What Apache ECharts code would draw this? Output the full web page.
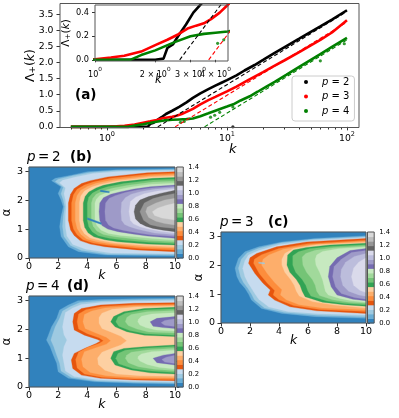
<!DOCTYPE html>
<html>
<head>
<meta charset="utf-8">
<script src="https://cdn.jsdelivr.net/npm/echarts@6/dist/echarts.min.js"></script>
<style>
  html, body { margin: 0; padding: 0; background: #fff; }
  #chart { width: 399px; height: 418px; }
</style>
</head>
<body>
<div id="chart"></div>
<script>
const FONT = 'DejaVu Sans'
const PI = Math.PI

// matplotlib tab20c, one colour per contour band (0 .. 1.4 in steps of 0.07)
const tab20c = ['#3182bd', '#6baed6', '#9ecae1', '#c6dbef', '#e6550d', '#fd8d3c', '#fdae6b', '#fdd0a2',
  '#31a354', '#74c476', '#a1d99b', '#c7e9c0', '#756bb1', '#9e9ac8', '#bcbddc', '#dadaeb',
  '#636363', '#969696', '#bdbdbd', '#d9d9d9']
const cbLevels = [0, 0.07, 0.14, 0.21, 0.28, 0.35, 0.42, 0.49, 0.56, 0.63, 0.7, 0.77, 0.84, 0.91, 0.98,
  1.05, 1.12, 1.19, 1.26, 1.33, 1.4]
const cbTicks = [0, 0.2, 0.4, 0.6, 0.8, 1.0, 1.2, 1.4]

// panel (a): Lambda_+(k)
const kP2 = [0.5, 1.0, 1.5, 2.0, 2.2, 2.3, 2.45, 2.6, 2.85, 3.1, 3.5, 4.0, 4.6, 5.2, 6.0, 7.0, 8.0, 9.0, 10, 12, 14, 17, 20, 25, 30, 40, 50, 60, 75, 100]
const lamP2 = [0, 0, 0, 0, 0.01, 0.1, 0.13, 0.2, 0.3, 0.4, 0.5, 0.62, 0.76, 0.9, 1.04, 1.17, 1.28, 1.37, 1.45, 1.6, 1.75, 1.92, 2.08, 2.3, 2.47, 2.74, 2.95, 3.12, 3.33, 3.62]
const kP3 = [0.5, 0.9, 1.0, 1.2, 1.4, 1.7, 2.0, 2.3, 2.6, 2.9, 3.2, 3.5, 3.8, 4.2, 4.6, 5.2, 6.0, 7.0, 8.0, 10, 12, 15, 20, 25, 30, 40, 50, 60, 75, 100]
const lamP3 = [0, 0, 0.005, 0.02, 0.035, 0.07, 0.125, 0.17, 0.215, 0.265, 0.29, 0.31, 0.345, 0.4, 0.465, 0.56, 0.7, 0.83, 0.93, 1.1, 1.25, 1.45, 1.7, 1.9, 2.06, 2.32, 2.53, 2.7, 2.93, 3.31]
const kP4 = [0.5, 1.0, 1.5, 1.7, 2.0, 2.5, 3.0, 3.5, 4.0, 4.6, 5.2, 6.0, 7.0, 8.0, 9.0, 10, 11.3, 13, 15.5, 18, 21.5, 25, 31.4, 40, 50, 60, 75, 100]
const lamP4 = [0, 0, 0, 0.04, 0.08, 0.15, 0.2, 0.22, 0.23, 0.24, 0.26, 0.33, 0.42, 0.5, 0.57, 0.63, 0.7, 0.82, 0.95, 1.09, 1.26, 1.4, 1.62, 1.86, 2.08, 2.26, 2.48, 2.76]
const strayP2 = [[11.2, 0.0]]
const strayP4 = [[4.1, 0.14], [4.4, 0.17], [7.3, 0.3], [7.9, 0.36], [8.7, 0.45], [11.2, 0.62], [60, 2.05], [95, 2.58]]
// asymptotic fits (dashed)
const fitP2 = [[2.65, 0], [100, 3.58]]
const fitP3 = [[3.7, 0], [100, 3.25]]
const fitP4 = [[6.5, 0], [100, 2.7]]

const mainXTicks = [1, 10, 100]
const mainXMinor = [0.5, 0.6, 0.7, 0.8, 0.9, 2, 3, 4, 5, 6, 7, 8, 9, 20, 30, 40, 50, 60, 70, 80, 90]
const mainYTicks = [0, 0.5, 1.0, 1.5, 2.0, 2.5, 3.0, 3.5]
const insetXTicks = [1, 2, 3, 4]
const insetXLabelsA = [1, 2, 4]
const insetXLabelsB = [3]
const insetYTicks = [0, 0.2, 0.4]
const heatYTicks = [0, 1, 2, 3]

// contour bands: [band, boundary k,alpha pairs], each region closes along k = 10
const levelsP2 = [
  [1, [10, 3.08, 6, 3.05, 4.0, 2.98, 2.9, 2.86, 1.8, 2.75, 1.55, 2.67, 2.2, 2.46, 2.0, 2.23, 2.2, 2.0, 2.35, 1.77, 2.2, 1.43, 2.1, 1.08, 2.2, 0.74, 2.7, 0.39, 3.4, 0.22, 5.2, 0.1, 10, 0.07]],
  [2, [10, 3.05, 6, 3.02, 4.2, 2.95, 3.0, 2.84, 2.0, 2.72, 1.8, 2.64, 2.35, 2.44, 2.2, 2.22, 2.35, 2.0, 2.45, 1.77, 2.35, 1.43, 2.3, 1.08, 2.4, 0.74, 2.85, 0.43, 3.6, 0.26, 5.4, 0.13, 10, 0.11]],
  [3, [10, 3.02, 6.2, 2.99, 4.4, 2.92, 3.2, 2.8, 2.3, 2.68, 2.1, 2.6, 2.5, 2.42, 2.4, 2.22, 2.5, 2.0, 2.55, 1.77, 2.5, 1.43, 2.5, 1.08, 2.6, 0.76, 3.0, 0.47, 3.9, 0.3, 5.6, 0.17, 10, 0.15]],
  [4, [10, 2.98, 8.1, 2.94, 5.4, 2.8, 4.2, 2.67, 3.6, 2.57, 3.1, 2.4, 2.85, 2.2, 2.7, 1.9, 2.7, 1.3, 2.85, 0.97, 3.1, 0.78, 3.5, 0.6, 4.2, 0.48, 5.2, 0.39, 7.4, 0.28, 10, 0.22]],
  [5, [10, 2.93, 8.2, 2.89, 5.6, 2.75, 4.4, 2.62, 3.8, 2.52, 3.3, 2.37, 3.05, 2.18, 2.92, 1.9, 2.92, 1.3, 3.05, 1.0, 3.3, 0.8, 3.7, 0.63, 4.4, 0.52, 5.4, 0.44, 7.6, 0.33, 10, 0.28]],
  [6, [10, 2.88, 8.3, 2.84, 5.8, 2.7, 4.6, 2.58, 4.05, 2.48, 3.55, 2.34, 3.3, 2.16, 3.17, 1.9, 3.17, 1.3, 3.3, 1.02, 3.55, 0.82, 3.95, 0.66, 4.65, 0.56, 5.6, 0.48, 7.8, 0.38, 10, 0.34]],
  [7, [10, 2.83, 8.4, 2.8, 6.0, 2.66, 4.85, 2.54, 4.3, 2.45, 3.8, 2.31, 3.55, 2.14, 3.45, 1.9, 3.45, 1.3, 3.55, 1.04, 3.8, 0.84, 4.2, 0.69, 4.9, 0.6, 5.85, 0.52, 8.0, 0.43, 10, 0.39]],
  [8, [10, 2.78, 8.5, 2.75, 6.3, 2.63, 5.1, 2.51, 4.6, 2.42, 4.1, 2.28, 3.85, 2.12, 3.72, 1.9, 3.72, 1.3, 3.82, 1.06, 4.05, 0.87, 4.45, 0.73, 5.2, 0.63, 6.1, 0.56, 8.1, 0.48, 10, 0.45]],
  [9, [10, 2.72, 8.5, 2.69, 6.5, 2.57, 5.4, 2.46, 4.85, 2.37, 4.35, 2.24, 4.1, 2.1, 4.0, 1.9, 4.0, 1.3, 4.1, 1.08, 4.35, 0.9, 4.75, 0.77, 5.5, 0.68, 6.4, 0.62, 8.2, 0.54, 10, 0.5]],
  [10, [10, 2.65, 8.5, 2.62, 6.8, 2.51, 5.7, 2.41, 5.1, 2.32, 4.6, 2.2, 4.38, 2.06, 4.28, 1.9, 4.28, 1.3, 4.4, 1.1, 4.65, 0.93, 5.1, 0.81, 5.9, 0.73, 6.8, 0.68, 8.3, 0.6, 10, 0.56]],
  [11, [10, 2.58, 8.4, 2.55, 7.0, 2.45, 6.0, 2.35, 5.35, 2.26, 4.85, 2.16, 4.62, 2.03, 4.52, 1.9, 4.52, 1.3, 4.65, 1.12, 4.95, 0.96, 5.45, 0.85, 6.3, 0.78, 7.3, 0.73, 8.5, 0.67, 10, 0.62]],
  [12, [10, 2.52, 8.3, 2.46, 7.2, 2.38, 6.3, 2.29, 5.6, 2.2, 5.1, 2.08, 4.85, 1.9, 4.8, 1.6, 4.85, 1.3, 5.0, 1.12, 5.4, 1.0, 6.1, 0.91, 7.1, 0.83, 8.1, 0.76, 10, 0.68]],
  [13, [10, 2.48, 8.4, 2.42, 7.4, 2.35, 6.6, 2.26, 6.0, 2.17, 5.5, 2.06, 5.25, 1.9, 5.2, 1.6, 5.25, 1.3, 5.45, 1.14, 5.8, 1.04, 6.5, 0.95, 7.4, 0.87, 8.3, 0.8, 10, 0.74]],
  [14, [10, 2.43, 8.6, 2.37, 7.7, 2.3, 7.0, 2.2, 6.6, 2.08, 6.35, 1.92, 6.3, 1.6, 6.35, 1.3, 6.55, 1.16, 6.9, 1.08, 7.4, 1.0, 8.0, 0.93, 8.6, 0.86, 10, 0.8]],
  [15, [10, 2.38, 8.8, 2.31, 7.9, 2.22, 7.3, 2.1, 6.95, 1.95, 6.85, 1.6, 6.95, 1.3, 7.15, 1.18, 7.6, 1.08, 8.2, 1.0, 9.0, 0.92, 10, 0.86]],
  [16, [10, 2.34, 9.0, 2.23, 8.2, 2.12, 7.6, 2.0, 7.3, 1.82, 7.2, 1.6, 7.3, 1.35, 7.6, 1.2, 8.0, 1.1, 8.5, 1.02, 9.2, 0.96, 10, 0.91]],
  [17, [10, 2.23, 9.2, 2.15, 8.5, 2.05, 7.9, 1.9, 7.6, 1.6, 7.85, 1.3, 8.3, 1.15, 9.0, 1.07, 10, 1.02]],
  [18, [10, 2.06, 9.3, 2.0, 8.7, 1.9, 8.1, 1.75, 8.0, 1.6, 8.2, 1.4, 8.7, 1.27, 9.3, 1.19, 10, 1.14]],
  [19, [10, 1.89, 9.4, 1.82, 8.8, 1.72, 8.45, 1.6, 8.6, 1.47, 9.1, 1.38, 10, 1.31]],
  [0, [4.0, 1.39, 4.95, 1.22, 4.95, 1.16, 4.0, 1.33]],
  [0, [4.9, 2.35, 5.5, 2.3, 5.5, 2.25, 4.9, 2.29]],
]

const levelsP3 = [
  [1, [10, 3.01, 6.5, 2.92, 4.2, 2.8, 2.6, 2.63, 1.65, 2.46, 1.2, 2.23, 0.97, 1.89, 1.1, 1.6, 1.3, 1.4, 1.65, 1.2, 1.9, 1.0, 2.1, 0.79, 2.8, 0.5, 4.2, 0.33, 6.5, 0.22, 10, 0.16]],
  [2, [10, 2.98, 6.4, 2.89, 4.1, 2.76, 2.6, 2.58, 1.8, 2.42, 1.4, 2.2, 1.2, 1.89, 1.35, 1.6, 1.55, 1.4, 1.85, 1.2, 2.1, 1.0, 2.3, 0.8, 3.0, 0.52, 4.4, 0.36, 6.6, 0.27, 10, 0.22]],
  [3, [10, 2.95, 6.2, 2.85, 4.0, 2.7, 2.6, 2.5, 1.9, 2.35, 1.65, 2.15, 1.5, 1.89, 1.65, 1.6, 1.85, 1.4, 2.1, 1.2, 2.35, 1.0, 2.6, 0.82, 3.3, 0.55, 4.6, 0.4, 6.7, 0.32, 10, 0.28]],
  [4, [10, 2.92, 5.9, 2.8, 3.84, 2.63, 2.46, 2.4, 2.0, 2.25, 1.9, 2.06, 2.34, 1.71, 2.9, 1.37, 3.4, 1.14, 3.26, 0.97, 3.7, 0.79, 4.76, 0.56, 6.6, 0.42, 10, 0.33]],
  [5, [10, 2.86, 6.0, 2.74, 4.0, 2.57, 2.8, 2.36, 2.3, 2.2, 2.25, 2.06, 2.65, 1.7, 3.2, 1.37, 3.7, 1.12, 3.6, 0.97, 4.0, 0.8, 5.0, 0.6, 6.8, 0.47, 10, 0.4]],
  [6, [10, 2.82, 6.2, 2.7, 4.3, 2.55, 3.3, 2.35, 2.9, 2.2, 2.8, 2.0, 3.2, 1.7, 3.7, 1.4, 4.2, 1.15, 4.1, 0.97, 4.5, 0.8, 5.4, 0.63, 7.0, 0.52, 10, 0.46]],
  [7, [10, 2.78, 6.6, 2.7, 5.0, 2.57, 4.4, 2.4, 4.2, 2.2, 4.2, 2.0, 4.4, 1.75, 4.8, 1.5, 5.05, 1.3, 5.2, 1.1, 5.4, 0.93, 6.3, 0.74, 7.8, 0.62, 10, 0.52]],
  [8, [10, 2.75, 7.5, 2.69, 5.9, 2.61, 5.0, 2.52, 4.6, 2.35, 4.55, 2.0, 4.75, 1.75, 5.2, 1.5, 5.45, 1.3, 5.6, 1.1, 5.8, 0.91, 7.0, 0.72, 8.5, 0.63, 10, 0.58]],
  [9, [10, 2.7, 7.6, 2.64, 6.1, 2.56, 5.35, 2.46, 4.95, 2.32, 4.95, 2.0, 5.15, 1.75, 5.6, 1.5, 5.85, 1.3, 6.0, 1.1, 6.2, 0.93, 7.3, 0.76, 8.6, 0.67, 10, 0.63]],
  [10, [10, 2.66, 7.8, 2.6, 6.5, 2.51, 5.85, 2.4, 5.6, 2.28, 5.65, 2.0, 5.9, 1.75, 6.3, 1.5, 6.5, 1.3, 6.6, 1.1, 6.8, 0.95, 7.7, 0.8, 8.8, 0.72, 10, 0.68]],
  [11, [10, 2.62, 8.1, 2.56, 7.0, 2.47, 6.6, 2.35, 6.5, 2.2, 6.55, 2.0, 6.8, 1.75, 7.0, 1.5, 7.1, 1.3, 7.2, 1.1, 7.4, 0.97, 8.2, 0.85, 9.0, 0.77, 10, 0.72]],
  [12, [10, 2.57, 8.9, 2.5, 8.0, 2.25, 7.5, 1.95, 7.4, 1.6, 7.6, 1.25, 8.0, 0.97, 9.1, 0.82, 10, 0.77]],
  [13, [10, 2.5, 9.0, 2.43, 8.3, 2.2, 7.8, 1.95, 7.7, 1.6, 7.9, 1.25, 8.3, 1.02, 9.2, 0.88, 10, 0.82]],
  [14, [10, 2.4, 9.2, 2.3, 8.6, 2.1, 8.3, 1.85, 8.25, 1.6, 8.4, 1.3, 8.8, 1.1, 9.5, 0.97, 10, 0.92]],
  [15, [10, 2.25, 9.5, 2.1, 9.15, 1.9, 9.0, 1.6, 9.15, 1.3, 9.6, 1.12, 10, 1.05]],
  [2, [2.6, 2.1, 3.0, 2.08, 3.0, 2.04, 2.6, 2.06]],
]

const levelsP4 = [
  [1, [10, 3.06, 7.2, 3.05, 4.9, 3.02, 3.36, 2.98, 2.7, 2.83, 2.1, 2.66, 1.9, 2.37, 1.55, 2.08, 1.33, 1.79, 1.2, 1.62, 1.45, 1.39, 1.67, 1.1, 1.9, 0.82, 2.0, 0.53, 2.7, 0.3, 4.5, 0.18, 7.2, 0.13, 10, 0.1]],
  [2, [10, 3.03, 7.2, 3.0, 4.9, 2.97, 3.5, 2.92, 2.85, 2.78, 2.3, 2.62, 2.1, 2.37, 1.8, 2.08, 1.6, 1.79, 1.5, 1.62, 1.7, 1.39, 1.9, 1.1, 2.1, 0.82, 2.2, 0.55, 2.9, 0.33, 4.6, 0.21, 7.2, 0.16, 10, 0.14]],
  [3, [10, 2.99, 7.2, 2.96, 4.9, 2.92, 3.6, 2.85, 3.0, 2.73, 2.5, 2.57, 2.4, 2.35, 2.3, 2.08, 2.4, 1.8, 2.6, 1.62, 2.4, 1.39, 2.3, 1.1, 2.4, 0.82, 2.5, 0.55, 3.1, 0.36, 4.7, 0.25, 7.2, 0.2, 10, 0.18]],
  [4, [10, 2.91, 7.2, 2.89, 4.9, 2.83, 3.6, 2.71, 3.1, 2.54, 3.0, 2.25, 3.1, 1.97, 3.8, 1.79, 4.7, 1.64, 4.9, 1.59, 4.6, 1.5, 3.8, 1.33, 3.1, 1.16, 2.9, 0.93, 3.0, 0.64, 3.6, 0.41, 4.9, 0.3, 7.2, 0.24, 10, 0.22]],
  [5, [10, 2.86, 7.2, 2.84, 5.0, 2.78, 3.9, 2.67, 3.4, 2.52, 3.3, 2.25, 3.4, 2.0, 4.0, 1.84, 4.8, 1.7, 5.1, 1.6, 4.8, 1.5, 4.0, 1.36, 3.4, 1.2, 3.2, 0.95, 3.3, 0.66, 3.8, 0.45, 5.0, 0.34, 7.2, 0.28, 10, 0.26]],
  [6, [10, 2.82, 7.2, 2.8, 5.2, 2.73, 4.3, 2.62, 3.8, 2.5, 3.7, 2.25, 3.85, 2.02, 4.5, 1.88, 5.3, 1.72, 5.6, 1.6, 5.3, 1.48, 4.5, 1.34, 3.8, 1.22, 3.6, 0.96, 3.7, 0.7, 4.2, 0.5, 5.3, 0.39, 7.3, 0.33, 10, 0.31]],
  [7, [10, 2.79, 7.4, 2.76, 5.7, 2.68, 5.0, 2.55, 4.8, 2.4, 4.8, 2.2, 5.0, 2.02, 5.6, 1.9, 6.3, 1.75, 6.7, 1.6, 6.3, 1.45, 5.6, 1.32, 5.0, 1.2, 4.7, 1.0, 4.75, 0.78, 5.2, 0.58, 6.0, 0.45, 7.6, 0.39, 10, 0.37]],
  [8, [10, 2.75, 7.9, 2.71, 6.5, 2.6, 5.8, 2.43, 5.6, 2.25, 5.9, 2.08, 6.7, 1.91, 7.9, 1.79, 10, 1.74]],
  [8, [10, 1.45, 7.9, 1.39, 6.5, 1.33, 5.8, 1.22, 5.6, 0.99, 5.9, 0.76, 7.0, 0.59, 8.3, 0.49, 10, 0.45]],
  [9, [10, 2.7, 7.9, 2.66, 6.6, 2.55, 6.1, 2.42, 5.95, 2.25, 6.15, 2.1, 6.9, 1.95, 8.0, 1.84, 10, 1.79]],
  [9, [10, 1.4, 7.9, 1.34, 6.6, 1.27, 6.1, 1.16, 5.95, 0.99, 6.15, 0.8, 7.1, 0.64, 8.4, 0.55, 10, 0.5]],
  [10, [10, 2.64, 8.1, 2.6, 7.0, 2.5, 6.7, 2.4, 6.6, 2.25, 6.8, 2.12, 7.4, 2.0, 8.2, 1.9, 10, 1.86]],
  [10, [10, 1.34, 8.1, 1.28, 7.0, 1.2, 6.7, 1.1, 6.6, 0.99, 6.8, 0.84, 7.5, 0.7, 8.6, 0.61, 10, 0.56]],
  [11, [10, 2.56, 8.4, 2.52, 7.7, 2.44, 7.5, 2.34, 7.45, 2.25, 7.6, 2.14, 8.0, 2.05, 8.7, 1.97, 10, 1.93]],
  [11, [10, 1.27, 8.4, 1.22, 7.7, 1.14, 7.5, 1.06, 7.45, 0.99, 7.6, 0.9, 8.1, 0.78, 8.9, 0.68, 10, 0.62]],
  [12, [10, 2.43, 8.76, 2.37, 8.3, 2.25, 8.5, 2.1, 9.2, 2.05, 10, 2.02]],
  [12, [10, 1.16, 9.2, 1.1, 8.5, 0.99, 8.76, 0.84, 10, 0.76]],
  [13, [10, 2.36, 9.3, 2.3, 9.05, 2.22, 9.3, 2.13, 10, 2.09]],
  [13, [10, 1.1, 9.4, 1.03, 9.1, 0.95, 9.3, 0.86, 10, 0.81]],
]

const zip = (xs, ys) => xs.map((x, i) => [x, ys[i]])
const pairs = (flat) => {
  const out = []
  for (let i = 0; i < flat.length; i += 2) out.push([flat[i], flat[i + 1]])
  return out
}

const txt = { fontFamily: FONT, color: '#000', fontWeight: 'normal' }
const supRich = {
  b: { ...txt, fontSize: 9.3, lineHeight: 13, verticalAlign: 'bottom' },
  s: { ...txt, fontSize: 6.5, lineHeight: 7, verticalAlign: 'top' },
  b8: { ...txt, fontSize: 8, lineHeight: 12, verticalAlign: 'bottom' },
  s8: { ...txt, fontSize: 5.8, lineHeight: 6, verticalAlign: 'top' },
}
const lamRich = (fs) => ({
  a: { ...txt, fontSize: fs },
  i: { ...txt, fontSize: fs, fontStyle: 'italic' },
  b: { ...txt, fontSize: fs * 0.7, verticalAlign: 'bottom', lineHeight: fs * 0.6 },
})

const grids = [
  { left: 60, top: 3.5, width: 299, height: 124 },      // (a)
  { left: 95, top: 5, width: 133, height: 56 },         // inset
  { left: 27, top: 167, width: 148, height: 91 },       // (b)
  { left: 176.7, top: 167, width: 6.6, height: 91 },    // (b) colorbar
  { left: 221, top: 232, width: 145, height: 91 },      // (c)
  { left: 367.5, top: 232, width: 6.7, height: 91 },    // (c) colorbar
  { left: 27, top: 296, width: 148, height: 91 },       // (d)
  { left: 176.7, top: 296, width: 6.6, height: 91 },    // (d) colorbar
].map((g) => ({ ...g, show: true, backgroundColor: 'transparent', borderColor: '#555', borderWidth: 1, z: 10 }))

const hideLines = { axisLine: { show: false }, splitLine: { show: false } }
const tickStyle = { lineStyle: { color: '#000', width: 0.8 } }

const heatX = (gi) => ({
  type: 'value', gridIndex: gi, min: 0, max: 10, interval: 2, ...hideLines,
  axisTick: { length: 3.5, ...tickStyle },
  axisLabel: { ...txt, fontSize: 9.5, margin: 4 },
  name: 'k', nameLocation: 'middle', nameGap: 11, nameMoveOverlap: false,
  nameTextStyle: { ...txt, fontSize: 12.5, fontStyle: 'italic' },
})
const heatY = (gi) => ({
  type: 'value', gridIndex: gi, min: 0, max: PI, ...hideLines,
  axisTick: { length: 3.5, customValues: heatYTicks, ...tickStyle },
  axisLabel: { ...txt, fontSize: 9.5, margin: 6, customValues: heatYTicks },
  name: 'α', nameLocation: 'middle', nameGap: 13, nameRotate: 90,
  nameTextStyle: { ...txt, fontSize: 12 },
})
const cbX = (gi) => ({ type: 'value', gridIndex: gi, min: 0, max: 1, show: false })
const cbY = (gi) => ({
  type: 'value', gridIndex: gi, min: 0, max: 1.4, position: 'right', ...hideLines,
  axisTick: { length: 2.5, customValues: cbTicks, ...tickStyle },
  axisLabel: { ...txt, fontSize: 6.8, margin: 5, customValues: cbTicks, formatter: (v) => v.toFixed(1) },
})
const insetLabelAxis = (values) => ({
  type: 'log', gridIndex: 1, min: 1, max: 4.62, position: 'bottom', ...hideLines,
  axisTick: { show: false },
  axisLabel: {
    customValues: values, margin: 5.5, rich: supRich, interval: 0, hideOverlap: false,
    formatter: (v) => (v === 1 ? '{b8|10}{s8|0}' : '{b8|' + v + ' × 10}{s8|0}'),
  },
})

const xAxis = [
  {
    type: 'log', gridIndex: 0, min: 0.406, max: 126, position: 'bottom', ...hideLines,
    axisTick: { length: 3.5, customValues: mainXTicks, ...tickStyle },
    axisLabel: {
      customValues: mainXTicks, margin: 3, rich: supRich,
      formatter: (v) => '{b|10}{s|' + Math.round(Math.log10(v)) + '}',
    },
  },
  {
    type: 'log', gridIndex: 0, min: 0.406, max: 126, position: 'bottom', ...hideLines,
    axisLabel: { show: false },
    axisTick: { length: 2, customValues: mainXMinor, ...tickStyle },
  },
  {
    type: 'log', gridIndex: 1, min: 1, max: 4.62, position: 'bottom', ...hideLines,
    axisTick: { length: 2.5, customValues: insetXTicks, ...tickStyle },
    axisLabel: { show: false },
  },
  heatX(2), cbX(3), heatX(4), cbX(5), heatX(6), cbX(7),
  insetLabelAxis(insetXLabelsA),
  insetLabelAxis(insetXLabelsB),
]

const yAxis = [
  {
    type: 'value', gridIndex: 0, min: -0.02, max: 3.83, ...hideLines,
    axisTick: { length: 3.5, customValues: mainYTicks, ...tickStyle },
    axisLabel: { ...txt, fontSize: 9.3, margin: 6.5, customValues: mainYTicks, formatter: (v) => v.toFixed(1) },
    name: '{a|Λ}{b|+}{a|(}{i|k}{a|)}', nameLocation: 'middle', nameGap: 23, nameRotate: 90,
    nameMoveOverlap: false,
    nameTextStyle: { rich: lamRich(12.5) },
  },
  {
    type: 'value', gridIndex: 1, min: -0.01, max: 0.465, ...hideLines,
    axisTick: { length: 3, customValues: insetYTicks, ...tickStyle },
    axisLabel: { ...txt, fontSize: 8.2, margin: 6, customValues: insetYTicks, formatter: (v) => v.toFixed(1) },
    name: '{a|Λ}{b|+}{a|(}{i|k}{a|)}', nameLocation: 'middle', nameGap: 18, nameRotate: 90,
    nameTextStyle: { rich: lamRich(10.5) },
  },
  heatY(2), cbY(3), heatY(4), cbY(5), heatY(6), cbY(7),
]

function heatSeries(ai, levels) {
  const items = [{ band: 0, pts: [[0, 0], [10, 0], [10, PI], [0, PI]] }]
    .concat(levels.map(([band, flat]) => ({ band, pts: pairs(flat) })))
  return {
    type: 'custom', xAxisIndex: ai + 1, yAxisIndex: ai, silent: true, z: 2,
    data: items.map(() => [5, 1.5]),
    renderItem: (params, api) => {
      const it = items[params.dataIndex]
      return {
        type: 'polygon',
        shape: { points: it.pts.map((p) => api.coord(p)) },
        style: { fill: tab20c[it.band], stroke: tab20c[it.band], lineWidth: 0.3 },
      }
    },
  }
}

function colorbarSeries(ai) {
  return {
    type: 'custom', xAxisIndex: ai + 1, yAxisIndex: ai, silent: true, z: 2,
    data: tab20c.map((c, i) => [0.5, (cbLevels[i] + cbLevels[i + 1]) / 2]),
    renderItem: (params, api) => {
      const i = params.dataIndex
      const p0 = api.coord([0, cbLevels[i]])
      const p1 = api.coord([1, cbLevels[i + 1]])
      return {
        type: 'rect',
        shape: { x: p0[0], y: p1[1], width: p1[0] - p0[0], height: p0[1] - p1[1] + 0.5 },
        style: { fill: tab20c[i] },
      }
    },
  }
}

const curve = (name, color, data, xi, yi) => ({
  name, type: 'line', xAxisIndex: xi, yAxisIndex: yi, data, showSymbol: false, symbol: 'none',
  lineStyle: { color, width: 2.6 }, itemStyle: { color }, clip: true, z: 3,
})
const stray = (name, color, data, xi, yi) => ({
  name, type: 'scatter', xAxisIndex: xi, yAxisIndex: yi, data, symbolSize: 3.2,
  itemStyle: { color }, clip: true, z: 3,
})
const fit = (name, color, data, xi, yi) => ({
  name, type: 'line', xAxisIndex: xi, yAxisIndex: yi, data, showSymbol: false, symbol: 'none',
  lineStyle: { color, width: 1.1, type: [4, 2.5] }, clip: true, z: 4,
})

const dataP2 = zip(kP2, lamP2)
const dataP3 = zip(kP3, lamP3)
const dataP4 = zip(kP4, lamP4)

const series = [
  curve('p = 2', '#000000', dataP2, 0, 0),
  curve('p = 3', '#ff0000', dataP3, 0, 0),
  curve('p = 4', '#008000', dataP4, 0, 0),
  stray('s2', '#000000', strayP2, 0, 0),
  stray('s4', '#008000', strayP4, 0, 0),
  fit('f2', '#000000', fitP2, 0, 0),
  fit('f3', '#ff0000', fitP3, 0, 0),
  fit('f4', '#008000', fitP4, 0, 0),
  curve('i2', '#000000', dataP2, 2, 1),
  curve('i3', '#ff0000', dataP3, 2, 1),
  curve('i4', '#008000', dataP4, 2, 1),
  stray('is4', '#008000', strayP4, 2, 1),
  fit('if2', '#000000', fitP2, 2, 1),
  fit('if3', '#ff0000', fitP3, 2, 1),
  heatSeries(2, levelsP2),
  colorbarSeries(3),
  heatSeries(4, levelsP3),
  colorbarSeries(5),
  heatSeries(6, levelsP4),
  colorbarSeries(7),
]

const panelTitle = (p, tag, left, tagLeft, cy) => [
  {
    text: '{i|p}{n|=}{n|' + p + '}', left, top: cy - 8, padding: 0,
    textStyle: {
      fontWeight: 'normal',
      rich: {
        i: { ...txt, fontSize: 13.5, fontStyle: 'italic', lineHeight: 16 },
        n: { ...txt, fontSize: 13.5, lineHeight: 16, padding: [0, 0, 0, 2.5] },
      },
    },
  },
  { text: tag, left: tagLeft, top: cy - 8, padding: 0, textStyle: { ...txt, fontSize: 13.5, fontWeight: 'bold', lineHeight: 16 } },
]
const kLabel = (left, cy, fs) => ({
  text: 'k', left, top: cy - fs * 0.6, padding: 0,
  textStyle: { ...txt, fontSize: fs, fontStyle: 'italic', lineHeight: fs * 1.2 },
})

const title = [
  { text: '(a)', left: 75, top: 87, padding: 0, textStyle: { ...txt, fontSize: 13.5, fontWeight: 'bold', lineHeight: 16 } },
  kLabel(229, 150, 13),
  kLabel(155, 80, 11.5),
  ...panelTitle('2', '(b)', 27, 70, 157),
  ...panelTitle('3', '(c)', 220, 268, 222),
  ...panelTitle('4', '(d)', 26, 67, 286),
]

const option = {
  animation: false,
  backgroundColor: '#fff',
  title,
  grid: grids,
  xAxis,
  yAxis,
  legend: {
    data: ['p = 2', 'p = 3', 'p = 4'],
    orient: 'vertical', left: 292, top: 76,
    icon: 'circle', itemWidth: 4, itemHeight: 4, itemGap: 4.5,
    padding: [1, 5, 5, 12],
    borderColor: '#cccccc', borderWidth: 1, borderRadius: 3,
    backgroundColor: 'rgba(255,255,255,0.8)',
    selectedMode: false,
    formatter: (name) => '{i|p}{n| = ' + name.slice(-1) + '}',
    textStyle: {
      rich: {
        i: { ...txt, fontSize: 10, fontStyle: 'italic', lineHeight: 11, padding: [0, 0, 0, 9] },
        n: { ...txt, fontSize: 10, lineHeight: 11 },
      },
    },
  },
  series,
}

const chart = echarts.init(document.getElementById('chart'), null, { renderer: 'canvas' })
chart.setOption(option)
</script>
</body>
</html>
